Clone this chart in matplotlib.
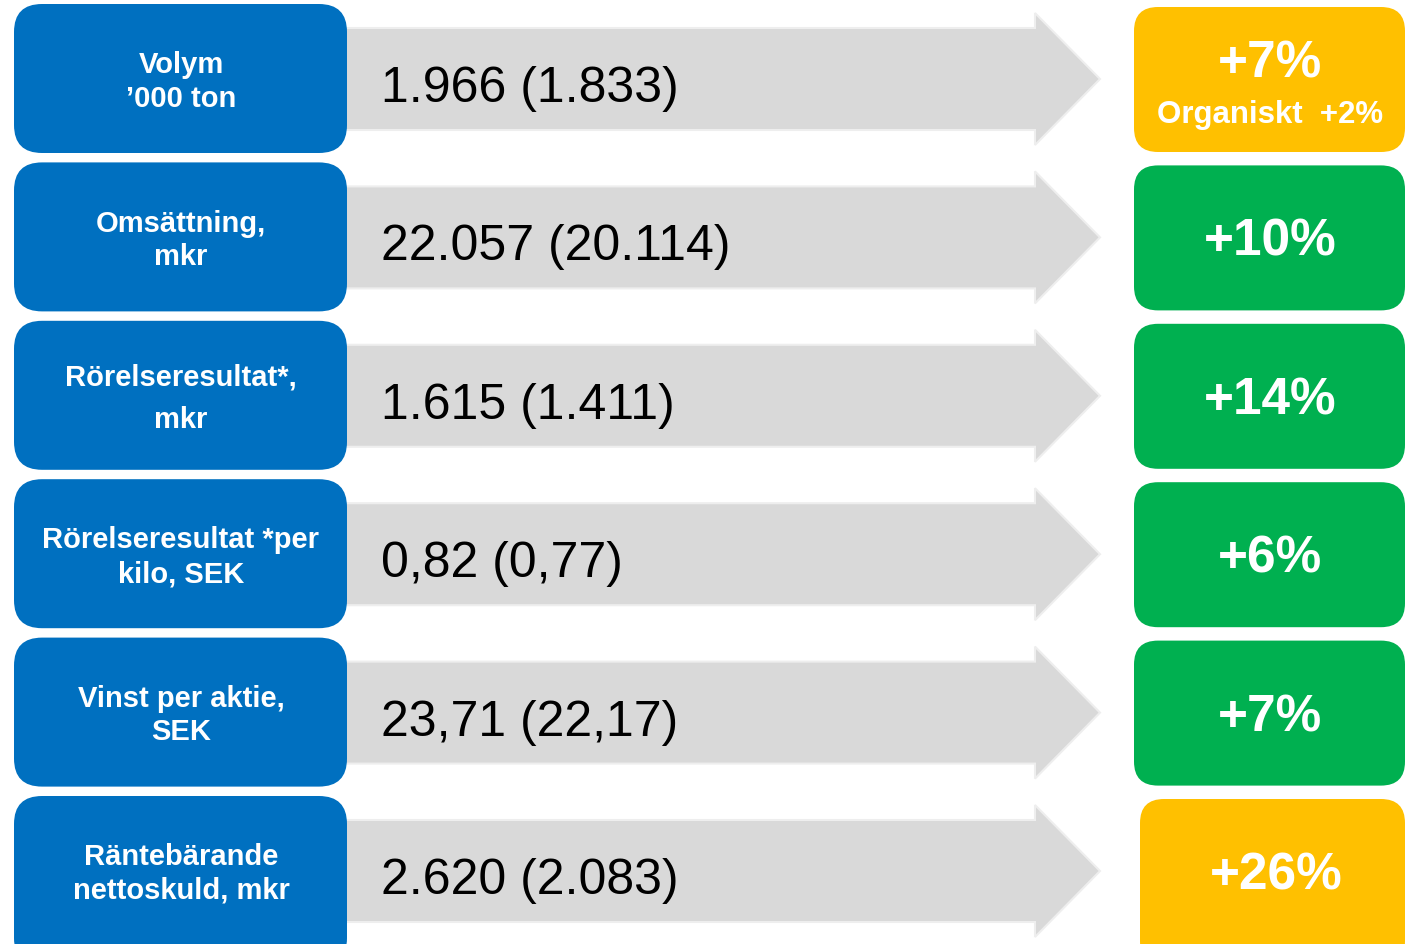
import matplotlib.pyplot as plt
from matplotlib.patches import FancyBboxPatch, Polygon

# data
labels = ["Volym\n\u2019000 ton", "Omsättning,\nmkr", "Rörelseresultat*,\nmkr",
          "Rörelseresultat *per\nkilo, SEK", "Vinst per aktie,\nSEK", "Räntebärande\nnettoskuld, mkr"]
values = ["1.966 (1.833)", "22.057 (20.114)", "1.615 (1.411)",
          "0,82 (0,77)", "23,71 (22,17)", "2.620 (2.083)"]
changes = ["+7%", "+10%", "+14%", "+6%", "+7%", "+26%"]
notes = ["Organiskt  +2%", "", "", "", "", ""]
change_colors = ["#FFC000", "#00B050", "#00B050", "#00B050", "#00B050", "#FFC000"]

BLUE = "#0070C0"
GRAY = "#D9D9D9"

plt.rcParams['font.family'] = ['Liberation Sans', 'DejaVu Sans']

fig = plt.figure(figsize=(14.06, 9.45), dpi=100)
ax = fig.add_axes([0, 0, 1, 1])
ax.set_xlim(0, 1406)
ax.set_ylim(945, 0)
ax.axis('off')

pitch = 158.4
n = len(labels)
for i in range(n):
    top = 5 + i * pitch
    cy = top + 75
    # last row runs off the bottom edge in the original
    h = 149 if i < n - 1 else 170

    # grey arrow
    arrow = Polygon([(340, cy - 51), (1035, cy - 51), (1035, cy - 66), (1100, cy),
                     (1035, cy + 66), (1035, cy + 51), (340, cy + 51)],
                    closed=True, facecolor=GRAY, edgecolor='#EEEEEE', lw=1.5, zorder=1)
    ax.add_patch(arrow)

    # blue label box
    box = FancyBboxPatch((14, top), 333, h, boxstyle="round,pad=0,rounding_size=28",
                         facecolor=BLUE, edgecolor='none', zorder=2)
    ax.add_patch(box)
    ax.text(181, cy + 2, labels[i], color='white', fontsize=21, fontweight='bold',
            ha='center', va='center', linespacing=1.26 if i != 2 else 1.65, zorder=3)

    # value
    ax.text(381, cy + 9, values[i], color='black', fontsize=36,
            ha='left', va='center', zorder=3)

    # change box
    cx = 1270 if i < n - 1 else 1276
    cbox = FancyBboxPatch((cx - 136, top + 3), 1405 - (cx - 136), h - 4,
                          boxstyle="round,pad=0,rounding_size=24",
                          facecolor=change_colors[i], edgecolor='none', zorder=2)
    ax.add_patch(cbox)
    if notes[i]:
        ax.text(cx, cy - 16, changes[i], color='white', fontsize=37, fontweight='bold',
                ha='center', va='center', zorder=3)
        ax.text(cx, cy + 35, notes[i], color='white', fontsize=22.5, fontweight='bold',
                ha='center', va='center', zorder=3)
    else:
        ax.text(cx, cy + 4, changes[i], color='white', fontsize=37, fontweight='bold',
                ha='center', va='center', zorder=3)

fig.savefig('out.png', dpi=100)
